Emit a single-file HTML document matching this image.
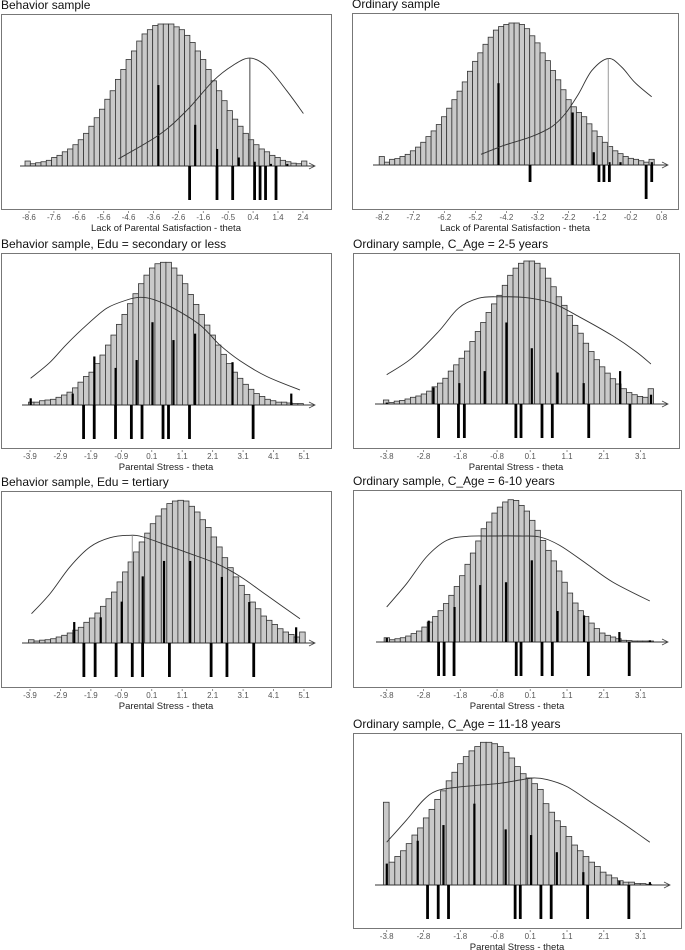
<!DOCTYPE html>
<html><head><meta charset="utf-8">
<style>
html,body{margin:0;padding:0;background:#fff;}
svg{display:block;font-family:"Liberation Sans",Arial,sans-serif;}
</style></head>
<body>
<svg id="fig" width="685" height="950" viewBox="0 0 685 950" xmlns="http://www.w3.org/2000/svg"></svg>
<script>
// ---------- Panel 1: Behavior sample ----------
const p1Hist = [3.5,1.6,2.3,3,4,6,7.5,10,12,15,18.5,23,28,34,40,47,53,61,68,75,81,88,93,96,99,100,100,100,98,96,92,87,81,75,68,60,53,46,39,33,28,23,18.5,15,12,10,7.5,6,4,3,2,1.6,3.5];
const p1UpX = [-3.41,-1.93,-1.05,-0.18,0.46,1.11,1.77];
const p1UpH = [57,29,12,6,3,1.5,1.5];
const p1Down = [-2.15,-1.05,-0.42,0.46,0.68,0.9,1.32];
const p1CurveX = [-5.01,-3.37,-2.27,-1.2,-0.4,0.28,0.95,1.75,2.42];
const p1CurveY = [5,22,39,60,71,76,70,53,37];
const p1Ticks = ["-8.6","-7.6","-6.6","-5.6","-4.6","-3.6","-2.6","-1.6","-0.5","0.4","1.4","2.4"];
// ---------- Panel 2: Ordinary sample ----------
const p2Hist = [6,2,4,4.5,6,7.5,10,12.6,16,20,24,28.5,34,40,46,52,58.5,66,73,79,85,90,95,97.5,99,100,100,99,96,91,86,79,73.5,66.5,60,53,46,41,37,34,29,24,20,16,13,10,8,6,4.7,4,3,2,4];
const p2UpX = [-4.46,-2.07,-1.39,-0.885,-0.53,0.48];
const p2UpH = [57.6,37,9,2,2,2];
const p2Down = [-3.44,-1.22,-1.06,-0.885,0.30,0.48];
const p2DownLen = [17,17,17,17,34,17];
const p2CurveX = [-5.02,-4.25,-3.39,-2.74,-2.31,-1.88,-1.45,-0.92,-0.49,-0.06,0.48];
const p2CurveY = [7.5,14,20,27,36,50,66.5,75,69,58,48];
const p2Ticks = ["-8.2","-7.2","-6.2","-5.2","-4.2","-3.2","-2.2","-1.2","-0.2","0.8"];
// ---------- Panel 3: Behavior, Edu = secondary or less ----------
const p3Hist = [2,2,3,3.5,4,5.4,7,9,12,16,20,23,29,35,42,49,56.5,63.5,71,78,85,91,96,99,100,100,96,91,85,77.5,70.5,63.5,56,49,42,35.5,29,23,18.7,14.5,11,8,6,4,3,2,2,1.4,1,1];
const p3UpX = [-3.88,-2.5,-1.79,-1.09,-0.4,0.12,0.81,1.52,2.75,4.68];
const p3UpH = [4.7,8,34,26,31.5,58,45.5,50,30,8];
const p3Down = [-2.14,-1.79,-1.09,-0.57,-0.22,0.47,0.65,1.34,3.43];
const p3CurveX = [-3.88,-3.24,-2.7,-2.04,-1.38,-0.72,-0.29,0.15,0.81,1.69,2.34,3.0,3.88,4.97];
const p3CurveY = [18.7,30,42.5,56,67.8,73.6,75.5,74,67.8,56,42,31,20,10.5];
const psTicks9 = ["-3.9","-2.9","-1.9","-0.9","0.1","1.1","2.1","3.1","4.1","5.1"];
// ---------- Panel 4: Ordinary, C_Age = 2-5 years ----------
const p4Hist = [2.8,1,2,2.5,3.5,4.7,5.6,7,9,12,14.6,18,23,27.4,32,37,43.7,50.7,57,64,70,76,83,90,95,98.4,100,100,98.4,95,88,82,75,69,62,55,49.5,42.5,36.7,31,26,21.6,17.7,14,10.7,8,6.5,5.3,4.7,10.7];
const p4UpX = [-3.8,-2.53,-1.83,-1.14,-0.55,0.14,0.84,1.55,2.54,3.38];
const p4UpH = [1,11.6,14.6,23,57,39,22,14.6,23,6.5];
const p4Down = [-2.39,-1.85,-1.69,-0.29,-0.15,0.42,0.7,1.69,2.81];
const p4CurveX = [-3.8,-3.12,-2.39,-1.85,-1.3,-0.75,-0.03,0.7,1.43,2.34,2.97,3.38];
const p4CurveY = [20.5,32,50.7,67,74,75,74.4,70.5,61,47.7,36.7,28];
const psTicks8 = ["-3.8","-2.8","-1.8","-0.8","0.1","1.1","2.1","3.1"];
const psTickVals8 = [-3.8,-2.8,-1.8,-0.8,0.1,1.1,2.1,3.1];
// ---------- Panel 5: Behavior, Edu = tertiary ----------
const p5Hist = [2.3,1.4,2,2.3,3,4.2,5.4,7,9,11,14.5,17.5,21,25.7,31,35.7,42.8,49.8,56.8,63.8,70.8,77,83.6,89,94,97.7,99.5,100,99.5,95.8,91.8,86.4,81,74.3,67.3,59.8,52.8,46.3,40.4,34,28.7,24,18.9,15.9,13,10,7.7,6,4.2,7.7];
const p5UpX = [-2.45,-1.58,-0.89,-0.2,0.5,1.36,2.4,3.3,4.84];
const p5UpH = [14.7,18,29,46.7,57.5,57.5,46.3,28.7,11];
const p5Down = [-2.13,-1.76,-1.07,-0.54,-0.2,0.68,2.05,2.57,3.45];
const p5CurveX = [-3.85,-3.24,-2.59,-1.93,-1.27,-0.61,-0.18,0.59,1.36,2.23,3.0,3.88,4.97];
const p5CurveY = [20.5,34.6,53.3,67.3,73.8,75.5,74.3,68.5,62.6,55.6,46.7,33.4,17];
// ---------- Panel 6: Ordinary, C_Age = 6-10 years ----------
const p6Hist = [3,1.6,2.3,3,4.2,5.9,7.7,10.5,14,18,22,27,32.8,39,46.6,54.6,62.5,71,79.6,84.3,90.6,94.8,98.4,100,99.5,96,92,85.5,78.5,71.4,64.4,57,49.9,42,34.4,27.4,22,18,13.3,9.4,6.3,4.7,3.5,2.3,1.2,1,0.7,0.7,0.7,0.7];
const p6UpX = [-3.8,-2.66,-1.96,-1.26,-0.56,0.14,0.84,1.56,2.52,3.35];
const p6UpH = [3,15,24.6,40,42,57.4,21.8,18.7,7,1.2];
const p6Down = [-2.39,-2.24,-1.97,-0.28,-0.15,0.42,0.7,1.68,2.79];
const p6CurveX = [-3.8,-3.26,-2.72,-2.17,-1.63,-1.0,-0.18,0.36,0.9,1.63,2.35,3.35];
const p6CurveY = [24.6,41,59.7,71.4,74.2,74.5,74.5,73.8,67.9,55,42,28.8];
// ---------- Panel 7: Ordinary, C_Age = 11-18 years ----------
const p7Hist = [58,16,20,24,29,35,40,47,53,60,66,73,79,85,90,94,97,100,100,99,97,93,89,83,78,75,71,67,57,51,45,41,34,28,24,20,16,13,9,7,5,3,2,2,1,1,0.5];
const p7UpX = [-3.8,-2.96,-2.26,-1.42,-0.57,0.12,0.82,1.54,2.52,3.35];
const p7UpH = [15,31,42,57,39,35,23,9,3,2];
const p7Down = [-2.69,-2.4,-2.12,-0.31,-0.17,0.39,0.67,1.66,2.78];
const p7CurveX = [-3.8,-3.26,-2.8,-2.44,-1.9,-1.26,-0.72,-0.18,0.18,0.54,1.09,1.81,2.63,3.35];
const p7CurveY = [30,45.6,59.6,66,68.5,70,71.3,73.6,75,74,69,57,43,30];

const NS = "http://www.w3.org/2000/svg";
const svg = document.getElementById('fig');
function mk(tag, attrs, parent){
  const e = document.createElementNS(NS, tag);
  for (const k in attrs) e.setAttribute(k, attrs[k]);
  (parent||svg).appendChild(e);
  return e;
}
function smoothPath(pts){
  let d = "M"+pts[0][0].toFixed(1)+","+pts[0][1].toFixed(1);
  for (let i=0;i<pts.length-1;i++){
    const p0=pts[i-1]||pts[i], p1=pts[i], p2=pts[i+1], p3=pts[i+2]||p2;
    const c1=[p1[0]+(p2[0]-p0[0])/6, p1[1]+(p2[1]-p0[1])/6];
    const c2=[p2[0]-(p3[0]-p1[0])/6, p2[1]-(p3[1]-p1[1])/6];
    d += " C"+c1[0].toFixed(1)+","+c1[1].toFixed(1)+" "+c2[0].toFixed(1)+","+c2[1].toFixed(1)+" "+p2[0].toFixed(1)+","+p2[1].toFixed(1);
  }
  return d;
}

function panel(cfg){
  const g = mk('g', {});
  
  
  const xs = u => cfg.x0 + (u - cfg.u0) * cfg.ppu;
  const ys = pct => cfg.base - pct/100 * cfg.maxH;
  const t = mk('text', {x: cfg.bx, y: cfg.by-5, 'font-size': 12, fill: '#111'}, g);
  t.textContent = cfg.title;
  
  
  const box = mk('rect', {x: cfg.bx+0.5, y: cfg.by+0.5, width: cfg.bw, height: cfg.bh, fill: 'none', stroke: '#777', 'stroke-width': 1}, g);
  
  
  // histogram
  const n = cfg.hist.length;
  const bw = (cfg.hEnd - cfg.hStart) / n;
  cfg.hist.forEach((h, i) => {
    const xL = xs(cfg.hStart + i*bw), xR = xs(cfg.hStart + (i+1)*bw);
    const r = mk('rect', {x: xL, y: ys(h), width: xR-xL, height: cfg.base-ys(h), fill: '#c9c9c9', stroke: '#333', 'stroke-width': 0.8}, g);
    
    
  });
  // axis line + arrow
  const ax = mk('line', {x1: cfg.axL, y1: cfg.base, x2: cfg.axR, y2: cfg.base, stroke: '#333', 'stroke-width': 1}, g);
  
  
  const ar = mk('path', {d: `M${cfg.axR-6},${cfg.base-3} L${cfg.axR},${cfg.base} L${cfg.axR-6},${cfg.base+3}`, fill: 'none', stroke: '#444', 'stroke-width': 0.8}, g);
  
  
  // up bars
  cfg.upX.forEach((u, i) => {
    const r = mk('rect', {x: xs(u)-1, y: ys(cfg.upH[i]), width: 2.2, height: cfg.base-ys(cfg.upH[i]), fill: '#000'}, g);
    
    
  });
  // down bars
  cfg.down.forEach((u, i) => {
    const len = cfg.downLen ? cfg.downLen[i] : 34;
    const r = mk('rect', {x: xs(u)-1.4, y: cfg.base, width: 2.8, height: len, fill: '#000'}, g);
    
    
  });
  // curve
  const pts = cfg.cx.map((u, i) => [xs(u), ys(cfg.cy[i])]);
  const c = mk('path', {d: smoothPath(pts), fill: 'none', stroke: '#333', 'stroke-width': 0.9}, g);
  
  
  if (cfg.vline){
    const v = mk('line', {x1: xs(cfg.vline[0]), y1: ys(cfg.vline[1]), x2: xs(cfg.vline[0]), y2: cfg.base, stroke: cfg.vcol||'#444', 'stroke-width': 1}, g);
    
    
  }
  // ticks
  const by2 = cfg.by + cfg.bh;
  cfg.ticks.forEach((lab, i) => {
    const u = cfg.tickVals ? cfg.tickVals[i] : cfg.u0 + i;
    const x = xs(u);
    const tk = mk('line', {x1: x, y1: by2+2, x2: x, y2: by2+4, stroke: '#777', 'stroke-width': 0.8}, g);
    
    
    const tl = mk('text', {x: x, y: by2+11, 'font-size': 8, fill: '#555', 'text-anchor': 'middle'}, g);
    tl.textContent = lab;
    
    
  });
  const at = mk('text', {x: cfg.bx + cfg.bw/2, y: by2+22, 'font-size': 9.5, fill: '#222', 'text-anchor': 'middle'}, g);
  at.textContent = cfg.xtitle;
  
  
}

const LPS = "Lack of Parental Satisfaction - theta", PS = "Parental Stress - theta";
panel({name:'panel-behavior-sample', title:'Behavior sample', bx:1, by:14, bw:330, bh:195, base:166, maxH:142,
  u0:-8.6, x0:29, ppu:24.9, hStart:-8.76, hEnd:2.56, axL:20, axR:315,
  hist:p1Hist, upX:p1UpX, upH:p1UpH, down:p1Down, cx:p1CurveX, cy:p1CurveY, vline:[0.27,76],
  ticks:p1Ticks, xtitle:LPS});
panel({name:'panel-ordinary-sample', title:'Ordinary sample', bx:352, by:13, bw:326, bh:196, base:165, maxH:142,
  u0:-8.2, x0:382.3, ppu:31.04, hStart:-8.30, hEnd:0.56, axL:373, axR:668,
  hist:p2Hist, upX:p2UpX, upH:p2UpH, down:p2Down, downLen:p2DownLen, cx:p2CurveX, cy:p2CurveY, vline:[-0.92,75], vcol:'#999',
  ticks:p2Ticks, xtitle:LPS});
panel({name:'panel-behavior-edu-secondary', title:'Behavior sample, Edu = secondary or less', bx:1, by:253, bw:330, bh:195, base:405, maxH:142.7,
  u0:-3.9, x0:30, ppu:30.44, hStart:-3.95, hEnd:5.08, axL:22, axR:315,
  hist:p3Hist, upX:p3UpX, upH:p3UpH, down:p3Down, cx:p3CurveX, cy:p3CurveY,
  ticks:psTicks9, xtitle:PS});
panel({name:'panel-ordinary-age-2-5', title:'Ordinary sample, C_Age = 2-5 years', bx:353, by:253, bw:326, bh:195, base:404, maxH:143,
  u0:-3.8, x0:386.7, ppu:36.8, hStart:-3.89, hEnd:3.45, axL:375, axR:668,
  hist:p4Hist, upX:p4UpX, upH:p4UpH, down:p4Down, cx:p4CurveX, cy:p4CurveY,
  ticks:psTicks8, tickVals:psTickVals8, xtitle:PS});
panel({name:'panel-behavior-edu-tertiary', title:'Behavior sample, Edu = tertiary', bx:1, by:491, bw:330, bh:196, base:643, maxH:142.7,
  u0:-3.9, x0:30, ppu:30.44, hStart:-3.95, hEnd:5.14, axL:22, axR:315,
  hist:p5Hist, upX:p5UpX, upH:p5UpH, down:p5Down, cx:p5CurveX, cy:p5CurveY, vline:[-0.54,75.5], vcol:'#999',
  ticks:psTicks9, xtitle:PS});
panel({name:'panel-ordinary-age-6-10', title:'Ordinary sample, C_Age = 6-10 years', bx:353, by:490, bw:328, bh:197, base:642, maxH:142.3,
  u0:-3.8, x0:386.7, ppu:36.8, hStart:-3.87, hEnd:3.45, axL:376, axR:668,
  hist:p6Hist, upX:p6UpX, upH:p6UpH, down:p6Down, cx:p6CurveX, cy:p6CurveY,
  ticks:psTicks8, tickVals:psTickVals8, xtitle:PS});
panel({name:'panel-ordinary-age-11-18', title:'Ordinary sample, C_Age = 11-18 years', bx:353, by:733, bw:328, bh:195, base:885, maxH:142.7,
  u0:-3.8, x0:386.7, ppu:36.8, hStart:-3.89, hEnd:3.40, axL:375, axR:670,
  hist:p7Hist, upX:p7UpX, upH:p7UpH, down:p7Down, cx:p7CurveX, cy:p7CurveY, vline:[0.03,75],
  ticks:psTicks8, tickVals:psTickVals8, xtitle:PS});
</script>
</body></html>
